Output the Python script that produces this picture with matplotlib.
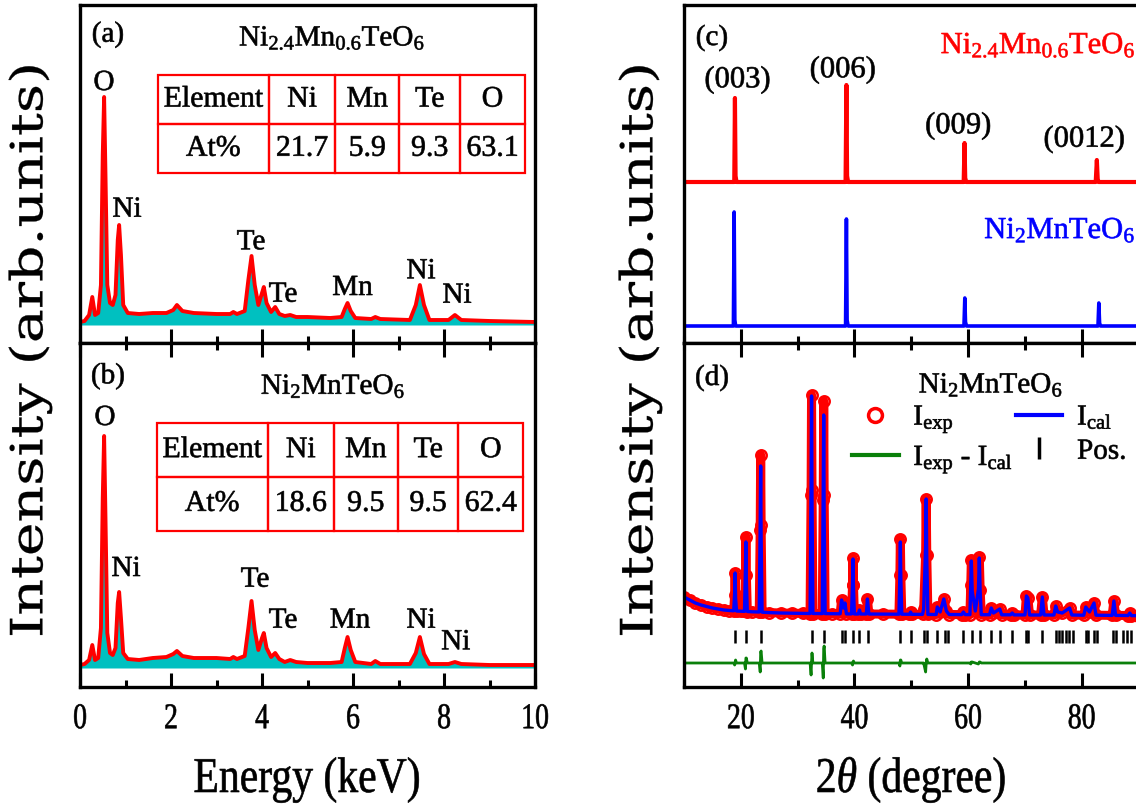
import matplotlib
matplotlib.use("Agg")
import numpy as np
import matplotlib.pyplot as plt
from matplotlib.lines import Line2D
from matplotlib.patheffects import AbstractPathEffect
from matplotlib.transforms import Affine2D

plt.rcParams["font.family"] = ["Liberation Serif", "DejaVu Serif"]
plt.rcParams["mathtext.fontset"] = "custom"
plt.rcParams["mathtext.rm"] = "Liberation Serif"
plt.rcParams["mathtext.it"] = "Liberation Serif:italic"
plt.rcParams["mathtext.bf"] = "Liberation Serif:bold"

# ---------------- EDS spectra (panels a, b) ----------------
energy_kev = [0.00, 0.10, 0.20, 0.27, 0.33, 0.40, 0.46, 0.50, 0.53, 0.56,
              0.60, 0.66, 0.72, 0.78, 0.83, 0.86, 0.90, 0.95, 1.05, 1.30,
              1.60, 1.90, 2.05, 2.13, 2.25, 2.50, 3.00, 3.30, 3.37, 3.45,
              3.62, 3.70, 3.77, 3.84, 3.92, 4.00, 4.04, 4.10, 4.20, 4.29,
              4.38, 4.50, 4.62, 4.75, 5.00, 5.50, 5.75, 5.82, 5.88, 5.95,
              6.05, 6.40, 6.49, 6.60, 7.25, 7.38, 7.47, 7.56, 7.68, 8.10,
              8.24, 8.38, 9.00, 10.0]
eds_ni24 = [3, 4, 10, 28, 10, 12, 40, 170, 228, 150,
            40, 22, 20, 30, 85, 100, 70, 20, 12, 11,
            12, 12, 15, 20, 14, 12, 11, 11, 13, 11,
            14, 45, 69, 40, 20, 32, 38, 22, 13, 18,
            11, 9, 10, 8, 8, 7, 8, 16, 22, 14,
            7, 6, 8, 6, 5, 20, 40, 20, 5, 5,
            10, 5, 4, 3]
eds_ni2 = [3, 4, 8, 23, 8, 10, 40, 170, 232, 150,
           35, 15, 13, 20, 65, 76, 50, 15, 9, 8,
           10, 11, 14, 17, 12, 10, 10, 9, 11, 9,
           12, 40, 67, 38, 18, 30, 35, 20, 11, 15,
           9, 6, 8, 6, 5, 5, 6, 20, 31, 18,
           6, 4, 7, 4, 4, 15, 31, 14, 4, 4,
           6, 4, 3, 3]

table_elements = ["Ni", "Mn", "Te", "O"]
at_pct_ni24 = [21.7, 5.9, 9.3, 63.1]
at_pct_ni2 = [18.6, 9.5, 9.5, 62.4]

# ---------------- XRD patterns (panel c) ----------------
tt_red = [10, 18.85, 18.97, 19.08, 19.25, 38.45, 38.60, 38.72, 38.90,
          59.25, 59.40, 59.52, 59.70, 82.50, 82.70, 82.85, 83.00, 90]
xrd_ni24 = [0, 0, 84, 6, 0, 0, 97, 6, 0, 0, 39, 4, 0, 0, 22, 3, 0, 0]
tt_blue = [10, 18.70, 18.83, 18.95, 19.10, 38.45, 38.60, 38.72, 38.90,
           59.30, 59.45, 59.57, 59.75, 82.90, 83.05, 83.18, 83.35, 90]
xrd_ni2 = [0, 0, 114, 6, 0, 0, 107, 6, 0, 0, 28, 4, 0, 0, 23, 3, 0, 0]
hkl_labels = ["(003)", "(006)", "(009)", "(0012)"]

# ---------------- Rietveld refinement (panel d) ----------------
tt_fit = [10.0, 11.0, 12.0, 13.0, 14.0, 15.0, 16.0, 17.0, 18.0, 18.75,
          18.92, 19.0, 19.08, 19.25, 20.0, 20.65, 20.82, 20.9, 20.98, 21.15,
          22.0, 23.25, 23.42, 23.5, 23.58, 23.75, 25.0, 27.0, 29.0, 31.0,
          32.2, 32.38, 32.46, 32.54, 32.7, 34.35, 34.52, 34.6, 34.68, 34.85,
          36.0, 37.5, 37.75, 38.05, 38.35, 38.6, 39.5, 39.68, 39.76, 39.84,
          40.0, 40.7, 40.9, 41.1, 42.1, 42.3, 42.55, 45.0, 47.85, 48.02,
          48.1, 48.18, 48.35, 49.7, 49.9, 50.1, 52.0, 52.2, 52.55, 52.65,
          52.75, 52.95, 54.4, 54.6, 55.1, 55.75, 56.2, 56.7, 58.9, 59.2,
          59.5, 60.35, 60.5, 60.6, 60.75, 61.3, 61.85, 62.0, 62.15, 62.35,
          63.8, 64.1, 64.5, 65.6, 65.95, 67.5, 67.8, 68.1, 70.05, 70.3,
          70.55, 70.85, 72.8, 73.1, 73.4, 75.15, 75.45, 75.8, 76.6, 77.9,
          78.3, 80.4, 80.75, 81.4, 82.2, 82.55, 85.4, 85.7, 86.0, 88.2,
          88.5, 88.8, 90.0]
i_exp = [28, 25, 22, 20, 18.5, 17, 16, 15, 14.5, 14.2,
         30, 52, 30, 14, 13.8, 13.6, 50, 88, 50, 13.5,
         13.2, 13, 95, 170, 100, 12.8, 12.4, 12, 11.8, 11.6,
         11.5, 130, 230, 135, 11.5, 11.4, 125, 224, 130, 11.4,
         11.3, 11.2, 25, 17, 22, 11.1, 11.1, 40, 67, 40,
         11, 11, 15, 11, 11, 26, 11, 10.9, 10.8, 50,
         86, 50, 10.8, 10.7, 13, 10.7, 10.6, 16, 70, 126,
         70, 10.6, 10.5, 18, 13, 26, 14, 10.5, 10.4, 13,
         10.4, 10.4, 40, 65, 35, 14, 35, 68, 35, 10.3,
         10.3, 17, 12, 16, 10.2, 10.2, 12, 10.1, 10.1, 29,
         27, 10, 10, 28, 10, 10, 19, 13, 12, 17,
         10, 9.8, 18, 13, 22, 9.8, 9.6, 24, 9.6, 9.5,
         12, 9.4, 9.3]
i_cal = [28, 25, 22, 20, 18.5, 17, 16, 15, 14.5, 14.2,
         32, 52, 27, 14, 13.8, 13.6, 56, 83, 45, 13.5,
         13.2, 13, 104, 159, 88, 12.8, 12.4, 12, 11.8, 11.6,
         11.5, 142, 229, 125, 11.5, 11.4, 140, 210, 113, 11.4,
         11.3, 11.2, 25, 17, 22, 11.1, 11.1, 42, 66, 38,
         11, 11, 15, 11, 11, 26, 11, 10.9, 10.8, 53,
         83, 47, 10.8, 10.7, 13, 10.7, 10.6, 16, 79, 126,
         66, 10.6, 10.5, 18, 13, 26, 14, 10.5, 10.4, 13,
         10.4, 10.4, 41, 64, 34, 14, 36, 67, 34, 10.3,
         10.3, 17, 12, 16, 10.2, 10.2, 12, 10.1, 10.1, 29,
         27, 10, 10, 28, 10, 10, 19, 13, 12, 17,
         10, 9.8, 18, 13, 22, 9.8, 9.6, 24, 9.6, 9.5,
         12, 9.4, 9.3]
bragg_pos = [19.0, 20.9, 23.5, 32.5, 34.6, 37.75, 38.35, 39.7, 40.9, 42.35,
             48.1, 49.9, 52.2, 52.75, 54.6, 55.9, 56.45, 59.2, 60.65, 62.05,
             64.1, 65.7, 67.8, 70.3, 70.6, 73.1, 75.45, 76.05, 76.6, 77.2,
             77.8, 78.5, 80.75, 81.15, 82.15, 82.65, 85.5, 86.05, 87.35,
             87.95, 88.8]


class TextLook(AbstractPathEffect):
    """Draw glyphs slightly heavier and optionally stretched vertically."""

    def __init__(self, sy=1.0, stroke=0.45):
        super().__init__()
        self.sy = sy
        self.stroke = stroke

    def draw_path(self, renderer, gc, tpath, affine, rgbFace=None):
        ext = tpath.get_extents(affine)
        cx = 0.5 * (ext.x0 + ext.x1)
        cy = 0.5 * (ext.y0 + ext.y1)
        tr = affine + Affine2D().translate(-cx, -cy).scale(1, self.sy).translate(cx, cy)
        gc0 = renderer.new_gc()
        gc0.copy_properties(gc)
        if self.stroke > 0 and rgbFace is not None:
            gc0.set_foreground(rgbFace)
            gc0.set_linewidth(self.stroke)
            gc0.set_joinstyle("round")
        renderer.draw_path(gc0, tpath, tr, rgbFace)
        gc0.restore()


LOOK = [TextLook()]

# ---------------- figure ----------------
W, H = 1136, 805
fig = plt.figure(figsize=(W / 100, H / 100), dpi=100)


def box(x0, y0, x1, y1):
    """Add axes given a pixel box (left, top, right, bottom)."""
    return fig.add_axes([x0 / W, 1 - y1 / H, (x1 - x0) / W, (y1 - y0) / H])


def ptext(x, y, s, **kw):
    kw.setdefault("ha", "center")
    kw.setdefault("va", "baseline")
    kw.setdefault("fontsize", 21)
    kw.setdefault("path_effects", LOOK)
    return fig.text(x / W, 1 - y / H, s, **kw)


ax_a = box(80, 5, 535, 343)
ax_b = box(80, 343, 535, 687)
ax_c = box(684, 5, 1138.3, 343)
ax_d = box(684, 343, 1138.3, 687)

RED = "#FF0000"
BLUE = "#0000FF"
GREEN = "#0A800A"
CYAN = "#00C0C0"

for ax in (ax_a, ax_b, ax_c, ax_d):
    for sp in ax.spines.values():
        sp.set_linewidth(2.4)
    ax.set_yticks([])
    ax.tick_params(axis="x", which="major", direction="in", length=10,
                   width=2.2, labelsize=20, pad=14)
    ax.tick_params(axis="x", which="minor", direction="in", length=5,
                   width=2.2)

# EDS panels
for ax, spec, ylim in ((ax_a, eds_ni24, (-18, 320)), (ax_b, eds_ni2, (-19, 325))):
    ax.fill_between(energy_kev, 0, spec, color=CYAN, lw=0)
    ax.plot(energy_kev, spec, color=RED, lw=2.8, solid_joinstyle="round")
    ax.set_xlim(0, 10)
    ax.set_ylim(*ylim)
    ax.set_xticks([0, 2, 4, 6, 8, 10])
    ax.set_xticks([1, 3, 5, 7, 9], minor=True)
ax_a.tick_params(axis="x", which="both", labelbottom=False, top=False)
ax_b.tick_params(axis="x", which="both", top=True)

for ax, vals in ((ax_a, at_pct_ni24), (ax_b, at_pct_ni2)):
    cells = [["Element"] + table_elements, ["At%"] + [f"{v:.1f}" for v in vals]]
    if ax is ax_a:
        bbox = [0.1708, 0.502, 0.8073, 0.2908]
    else:
        bbox = [0.1685, 0.4544, 0.8057, 0.3122]
    tb = ax.table(cellText=cells, cellLoc="center", bbox=bbox,
                  colWidths=[0.303, 0.180, 0.175, 0.165, 0.177])
    tb.auto_set_font_size(False)
    tb.set_fontsize(21.5)
    for cell in tb.get_celld().values():
        cell.set_edgecolor(RED)
        cell.set_linewidth(1.6)
        cell.set_facecolor("none")
        cell.get_text().set_path_effects(LOOK)

# panel (a) labels
ptext(108, 41.7, "(a)")
ptext(332, 45.7, r"Ni$_\mathrm{2.4}$Mn$_\mathrm{0.6}$TeO$_\mathrm{6}$")
for x, y, s in ((104, 90, "O"), (127, 216.7, "Ni"), (251, 249.3, "Te"),
                (283, 301.7, "Te"), (352.5, 295, "Mn"), (421, 278.3, "Ni"),
                (457, 302.7, "Ni")):
    ptext(x, y, s)
# panel (b) labels
ptext(108, 383.3, "(b)")
ptext(333, 394, r"Ni$_\mathrm{2}$MnTeO$_\mathrm{6}$")
for x, y, s in ((105, 425, "O"), (126, 576, "Ni"), (255, 586.7, "Te"),
                (283, 627.7, "Te"), (350, 627.7, "Mn"), (421, 627.7, "Ni"),
                (455.7, 649.3, "Ni")):
    ptext(x, y, s)

# XRD panel (c)
ax_c.plot(tt_red, np.asarray(xrd_ni24) + 161, color=RED, lw=3.0)
ax_c.plot(tt_blue, np.asarray(xrd_ni2) + 17, color=BLUE, lw=2.6)
ax_c.set_ylim(0, 338)
ptext(712, 45, "(c)")
ptext(1038, 53.3, r"Ni$_\mathrm{2.4}$Mn$_\mathrm{0.6}$TeO$_\mathrm{6}$",
      color=RED, fontsize=22)
ptext(1059.7, 238.3, r"Ni$_\mathrm{2}$MnTeO$_\mathrm{6}$", color=BLUE,
      fontsize=22)
for (x, y), s in zip(((737.3, 87.3), (842.5, 77.3), (958, 133.3), (1084, 146.7)),
                     hkl_labels):
    ptext(x, y, s, fontsize=22)

# Rietveld panel (d)
i_exp_a = np.asarray(i_exp)
i_cal_a = np.asarray(i_cal)
ax_d.plot(tt_fit, i_exp_a, color=RED, lw=6.5, solid_joinstyle="round")
ax_d.plot(tt_fit, i_exp_a, ls="none", marker="o", ms=7.5, mfc="none",
          mec=RED, mew=1.8)
ax_d.plot(tt_fit, i_cal_a, color=BLUE, lw=2.4)
ax_d.plot(tt_fit, i_exp_a - i_cal_a - 38, color=GREEN, lw=2.0)
ax_d.vlines(bragg_pos, -18, -5, color="black", lw=1.8)
ax_d.set_ylim(-62, 282)
ptext(712, 385, "(d)")
ptext(990.8, 392.7, r"Ni$_\mathrm{2}$MnTeO$_\mathrm{6}$")

for ax in (ax_c, ax_d):
    ax.set_xlim(10, 90)
    ax.set_xticks([20, 40, 60, 80])
    ax.set_xticks([10, 30, 50, 70, 90], minor=True)
ax_c.tick_params(axis="x", which="both", labelbottom=False, top=False)
ax_d.tick_params(axis="x", which="both", top=True)

# taller, heavier tick numbers
for ax in (ax_b, ax_d):
    for tick in ax.xaxis.get_major_ticks():
        tick.label1.set_path_effects([TextLook(sy=1.3)])

h_exp = Line2D([], [], ls="none", marker="o", ms=10, mfc="none", mec=RED, mew=2.5)
h_cal = Line2D([], [], color=BLUE, lw=3)
h_diff = Line2D([], [], color=GREEN, lw=3)
h_pos = Line2D([], [], ls="none", marker="|", ms=16, mew=2.5, color="black")
leg = ax_d.legend([h_exp, h_diff, h_cal, h_pos],
                  [r"I$_\mathrm{exp}$", r"I$_\mathrm{exp}$ - I$_\mathrm{cal}$",
                   r"I$_\mathrm{cal}$", "Pos."],
                  ncol=2, loc="upper left", bbox_to_anchor=(852 / W, 1 - 403 / H),
                  bbox_transform=fig.transFigure, frameon=False, fontsize=21,
                  handlelength=1.6, handletextpad=0.5, columnspacing=0.1,
                  labelspacing=0.25, borderpad=0, borderaxespad=0, numpoints=1)
for t in leg.get_texts():
    t.set_path_effects(LOOK)

# axis titles
for x in (30, 640):
    fig.text(x / W, 1 - 350 / H, "Intensity (arb.units)", rotation=90,
             ha="center", va="center", fontsize=32, family="DejaVu Serif",
             path_effects=[TextLook(sy=1.28, stroke=0.2)])
ptext(307, 790, "Energy (keV)", fontsize=30, path_effects=[TextLook(sy=1.2)])
ptext(911, 790, r"2$\theta$ (degree)", fontsize=30, path_effects=[TextLook(sy=1.2)])

fig.savefig("out.png", dpi=100)
